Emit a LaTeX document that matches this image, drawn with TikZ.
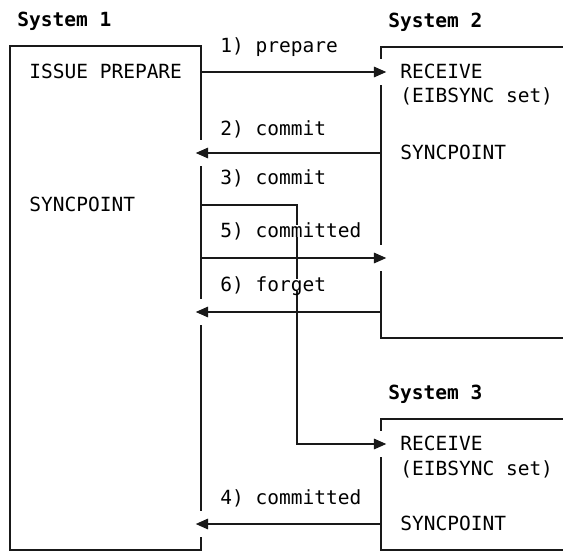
\documentclass[tikz,border=0pt]{standalone}
\usepackage{fontspec}
\setmonofont{DejaVu Sans Mono}
\usetikzlibrary{arrows.meta}
\newcommand{\codefont}{\ttfamily\fontsize{11.1}{13}\selectfont}

\begin{document}
\begin{tikzpicture}[
    x=0.02cm, y=-0.02cm,
    sysbox/.style={draw=black!90, line width=0.75pt},
    msg/.style={draw=black!90, line width=0.75pt, -{Triangle[length=7pt,width=6pt]}, shorten >=-3pt},
    gap/.style={draw=white, line width=2.5pt},
    code/.style={font=\codefont, anchor=west, inner sep=0pt, text height=0.73em, text depth=0pt},
    title/.style={code, font=\codefont\bfseries},
    step label/.style={code, fill=white}
]
\useasboundingbox (0,0) rectangle (563,551);

% box edges
\coordinate (s1r) at (201,0);
\coordinate (s2l) at (381,0);

\draw[sysbox] (10,46) rectangle (201,550);
\draw[sysbox] (563,47) -- (381,47) -- (381,338) -- (563,338);
\draw[sysbox] (563,419) -- (381,419) -- (381,550) -- (563,550);

\node[title] (sys1) at (17,20) {System 1};
\node[title] (sys2) at (388,21) {System 2};
\node[title] (sys3) at (388,393) {System 3};

\node[code] (issue) at (29,72) {ISSUE PREPARE};
\node[code] (sync1) at (29,205) {SYNCPOINT};

\node[code] (recv2) at (400,72) {RECEIVE};
\node[code] (eib2) at (400,96) {(EIBSYNC set)};
\node[code] (sync2) at (400,153) {SYNCPOINT};

\node[code] (recv3) at (400,444) {RECEIVE};
\node[code] (eib3) at (400,469) {(EIBSYNC set)};
\node[code] (sync3) at (400,524) {SYNCPOINT};

\coordinate (relay) at (297,444);
\coordinate (out5) at (201,258);
\coordinate (in6) at (381,312);

% breaks in the box edges at the arrow tips
\foreach \y in {153,312,524} \draw[gap] (201,\y-13) -- (201,\y+13);
\foreach \y in {72,258,444} \draw[gap] (381,\y-13) -- (381,\y+13);

\draw[msg] (issue -| s1r) -- (recv2 -| s2l);
\draw[msg] (sync2 -| s2l) -- (sync2 -| s1r);
\draw[msg] (sync1 -| s1r) -| (relay) -- (recv3 -| s2l);
\draw[msg] (out5) -- (out5 -| s2l);
\draw[msg] (in6) -- (in6 -| s1r);
\draw[msg] (sync3 -| s2l) -- (sync3 -| s1r);

\node[step label] (lbl1) at (220,46) {1) prepare};
\node[step label] (lbl2) at (220,129) {2) commit};
\node[step label] (lbl3) at (220,178) {3) commit};
\node[step label] (lbl5) at (220,231) {5) committed};
\node[step label] (lbl6) at (220,285) {6) forget};
\node[step label] (lbl4) at (220,498) {4) committed};

\end{tikzpicture}
\end{document}
